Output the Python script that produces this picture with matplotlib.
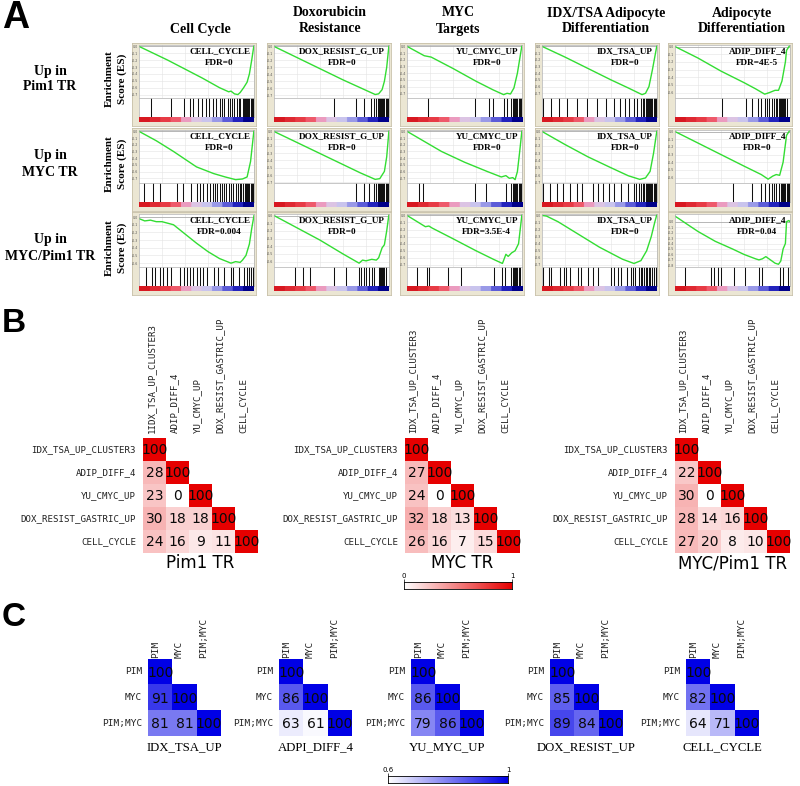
import numpy as np
import matplotlib
matplotlib.use("Agg")
import matplotlib.pyplot as plt
from matplotlib.colors import LinearSegmentedColormap

# ======================= DATA : panel A (GSEA) =======================
GENE_SETS = ["CELL_CYCLE", "DOX_RESIST_G_UP", "YU_CMYC_UP", "IDX_TSA_UP", "ADIP_DIFF_4"]
COL_TITLES = ["Cell Cycle", "Doxorubicin\nResistance", "MYC\nTargets",
              "IDX/TSA Adipocyte\nDifferentiation", "Adipocyte\nDifferentiation"]
ROW_TITLES = ["Up in\nPim1 TR", "Up in\nMYC TR", "Up in\nMYC/Pim1 TR"]
FDR_PIM = ["FDR=0", "FDR=0", "FDR=0", "FDR=0", "FDR=4E-5"]
FDR_MYC = ["FDR=0", "FDR=0", "FDR=0", "FDR=0", "FDR=0"]
FDR_MP = ["FDR=0.004", "FDR=0", "FDR=3.5E-4", "FDR=0", "FDR=0.04"]

# --- Up in Pim1 TR ---
PIM_CC_X = [0, .1, .25, .4, .55, .7, .78, .8, .83, .86, .88, .91, .94, .96, .98, 1.0]
PIM_CC_ES = [0, -.08, -.2, -.33, -.46, -.6, -.66, -.65, -.69, -.7, -.67, -.6, -.52, -.4, -.2, .02]
PIM_CC_HITS = [.10, .28, .39, .44, .47, .51, .55, .58, .61, .64, .67, .70, .72, .74, .77, .79, .81,
               .83, .85, .87, .88, .90, .91, .92, .93, .94, .95, .96, .97, .98, .99]
PIM_DOX_X = [0, .2, .4, .6, .8, .88, .91, .94, .96, .98, 1.0]
PIM_DOX_ES = [0, -.16, -.32, -.48, -.63, -.69, -.68, -.62, -.5, -.3, .02]
PIM_DOX_HITS = [.52, .71, .78, .84, .87, .89, .90, .91, .92, .93, .94, .95, .96, .97, .98, .99]
PIM_MYC_X = [0, .15, .18, .21, .4, .6, .75, .84, .87, .9, .93, .96, 1.0]
PIM_MYC_ES = [0, -.14, -.15, -.16, -.33, -.52, -.65, -.72, -.7, -.71, -.62, -.4, .02]
PIM_MYC_HITS = [.18, .59, .71, .75, .84, .87, .90, .92, .93, .94, .95, .96, .97, .98, .99]
PIM_IDX_X = [0, .2, .4, .6, .75, .87, .9, .93, .96, 1.0]
PIM_IDX_ES = [0, -.16, -.33, -.5, -.62, -.72, -.7, -.6, -.35, .02]
PIM_IDX_HITS = [.01, .08, .15, .22, .30, .39, .48, .56, .63, .68, .72, .76, .80, .83, .86, .88, .89,
                .90, .91, .92, .93, .94, .95, .96, .97, .98, .99]
PIM_ADIP_X = [0, .2, .4, .6, .7, .78, .82, .87, .9, .93, .96, .97, 1.0]
PIM_ADIP_ES = [0, -.15, -.32, -.47, -.55, -.62, -.6, -.57, -.57, -.45, -.2, -.05, .02]
PIM_ADIP_HITS = [.41, .62, .67, .72, .75, .78, .80, .82, .84, .86, .88, .89, .90, .91, .92, .93,
                 .94, .95, .96, .97]

# --- Up in MYC TR ---
MYC_CC_X = [0, .15, .3, .5, .65, .75, .84, .9, .94, .97, 1.0]
MYC_CC_ES = [0, -.14, -.3, -.53, -.63, -.68, -.72, -.71, -.68, -.45, .02]
MYC_CC_HITS = [.04, .12, .18, .33, .38, .45, .50, .53, .56, .59, .62, .64, .66, .68, .70, .72, .74,
               .76, .78, .80, .82, .84, .86, .88, .89, .90, .92, .93, .94, .95, .96, .97, .98, .99]
MYC_DOX_X = [0, .25, .5, .75, .88, .92, .96, .98, 1.0]
MYC_DOX_ES = [0, -.19, -.38, -.57, -.66, -.65, -.55, -.35, .02]
MYC_DOX_HITS = [.71, .78, .83, .87, .89, .90, .91, .92, .93, .94, .95, .96, .97, .98, .99]
MYC_MYC_X = [0, .1, .3, .5, .7, .82, .86, .89, .92, .94, .96, .98, 1.0]
MYC_MYC_ES = [0, -.1, -.3, -.46, -.6, -.68, -.66, -.7, -.69, -.72, -.6, -.3, .02]
MYC_MYC_HITS = [.10, .14, .59, .69, .86, .90, .92, .93, .94, .95, .96, .97, .98, .99]
MYC_IDX_X = [0, .2, .4, .6, .75, .85, .9, .94, .97, 1.0]
MYC_IDX_ES = [0, -.18, -.35, -.5, -.61, -.66, -.64, -.55, -.3, .02]
MYC_IDX_HITS = [.01, .07, .13, .18, .24, .30, .35, .44, .49, .53, .58, .63, .69, .75, .80, .82, .84,
                .86, .88, .89, .90, .91, .92, .93, .94, .95, .96, .97, .98, .99]
MYC_ADIP_X = [0, .2, .4, .6, .75, .81, .85, .88, .91, .94, .97, 1.0]
MYC_ADIP_ES = [0, -.15, -.3, -.45, -.56, -.62, -.58, -.56, -.57, -.4, -.05, .02]
MYC_ADIP_HITS = [.50, .67, .75, .78, .82, .84, .86, .88, .90, .92, .93, .94, .95, .96, .97, .98, .99]

# --- Up in MYC/Pim1 TR ---
MP_CC_X = [0, .05, .1, .15, .2, .25, .3, .4, .5, .6, .7, .8, .84, .88, .9, .93, .96, .98, 1.0]
MP_CC_ES = [-.02, -.05, -.04, -.06, -.06, -.08, -.1, -.22, -.34, -.45, -.54, -.6, -.58, -.59, -.56,
            -.5, -.35, -.15, .02]
MP_CC_HITS = [.06, .11, .14, .18, .21, .24, .28, .36, .39, .42, .44, .47, .50, .53, .56, .59, .65,
              .69, .74, .80, .82, .87, .91, .94, .96, .97, .99]
MP_DOX_X = [0, .2, .4, .6, .74, .77, .8, .85, .89, .91, .94, .96, .98, 1.0]
MP_DOX_ES = [0, -.16, -.32, -.5, -.62, -.58, -.59, -.57, -.58, -.55, -.42, -.38, -.2, .02]
MP_DOX_HITS = [.18, .25, .31, .52, .63, .74, .76, .78, .80, .83, .85, .87, .91, .92, .93, .94, .95,
               .96, .97]
MP_MYC_X = [0, .1, .16, .19, .22, .4, .6, .75, .83, .86, .88, .91, .94, .97, 1.0]
MP_MYC_ES = [0, -.1, -.16, -.15, -.18, -.33, -.5, -.62, -.68, -.55, -.58, -.53, -.5, -.4, .02]
MP_MYC_HITS = [.09, .17, .19, .36, .47, .76, .83, .85, .90, .92, .93, .94, .95, .96, .97, .98]
MP_IDX_X = [0, .04, .14, .3, .5, .7, .8, .86, .91, .95, .98, 1.0]
MP_IDX_ES = [0, -.01, -.09, -.25, -.45, -.62, -.68, -.64, -.5, -.3, -.1, .02]
MP_IDX_HITS = [.01, .06, .08, .16, .19, .21, .24, .31, .34, .40, .44, .49, .60, .63, .66, .69, .74,
               .77, .79, .81, .84, .86, .87, .89, .90, .91, .93, .94, .96, .97, .99]
MP_ADIP_X = [0, .03, .1, .2, .35, .5, .6, .7, .73, .76, .79, .83, .87, .9, .92, .94, .96, .97, .99, 1.0]
MP_ADIP_ES = [.1, .06, -.04, -.18, -.36, -.5, -.6, -.68, -.7, -.68, -.64, -.7, -.76, -.78, -.72,
              -.5, -.4, 0, .02, 0]
MP_ADIP_HITS = [.09, .31, .34, .37, .40, .51, .61, .73, .76, .91, .94, .98]

ES_TOP_PIM = [.02, .02, .02, .02, .02]
ES_TOP_MYC = [.02, .02, .02, .02, .02]
ES_TOP_MP = [.04, .02, .02, .02, .14]

# ======================= DATA : panel B =======================
B_SETS = ["IDX_TSA_UP_CLUSTER3", "ADIP_DIFF_4", "YU_CMYC_UP", "DOX_RESIST_GASTRIC_UP", "CELL_CYCLE"]
B_COLS_FIRST = ["1IDX_TSA_UP_CLUSTER3", "ADIP_DIFF_4", "YU_CMYC_UP", "DOX_RESIST_GASTRIC_UP", "CELL_CYCLE"]
B_TITLES = ["Pim1 TR", "MYC TR", "MYC/Pim1 TR"]
B_PIM = [[100], [28, 100], [23, 0, 100], [30, 18, 18, 100], [24, 16, 9, 11, 100]]
B_MYC = [[100], [27, 100], [24, 0, 100], [32, 18, 13, 100], [26, 16, 7, 15, 100]]
B_MP = [[100], [22, 100], [30, 0, 100], [28, 14, 16, 100], [27, 20, 8, 10, 100]]

# ======================= DATA : panel C =======================
C_LABELS = ["PIM", "MYC", "PIM;MYC"]
C_TITLES = ["IDX_TSA_UP", "ADPI_DIFF_4", "YU_MYC_UP", "DOX_RESIST_UP", "CELL_CYCLE"]
C_IDX = [[100], [91, 100], [81, 81, 100]]
C_ADIP = [[100], [86, 100], [63, 61, 100]]
C_MYC = [[100], [86, 100], [79, 86, 100]]
C_DOX = [[100], [85, 100], [89, 84, 100]]
C_CC = [[100], [82, 100], [64, 71, 100]]

# ======================= FIGURE =======================
W, H = 800, 786
fig = plt.figure(figsize=(8, 7.86), dpi=100)
fig.patch.set_facecolor("white")

SERIF = ["Liberation Serif", "DejaVu Serif"]
SANS = ["Liberation Sans", "DejaVu Sans"]
MONO = ["DejaVu Sans Mono"]


def px_axes(x, y, w, h):
    return fig.add_axes([x / W, 1 - (y + h) / H, w / W, h / H])


def ftext(x, y, s, **kw):
    return fig.text(x / W, 1 - y / H, s, **kw)


# panel letters
ftext(16, 18, "A", fontsize=27, fontweight="bold", family=SANS, ha="center", va="center")
ftext(14, 323, "B", fontsize=24, fontweight="bold", family=SANS, ha="center", va="center")
ftext(14, 617, "C", fontsize=24, fontweight="bold", family=SANS, ha="center", va="center")

# ---------------- panel A ----------------
TAN = "#ebe6d3"
RANK_CMAP = LinearSegmentedColormap.from_list(
    "rank", [(0, "#d81820"), (0.28, "#ee4a55"), (0.37, "#f08fb5"), (0.5, "#dcc4e4"),
             (0.63, "#c4c4f0"), (0.75, "#7c7ce2"), (0.88, "#2a2ac8"), (1.0, "#00008a")], N=11)

grid_data = [
    [(PIM_CC_X, PIM_CC_ES, PIM_CC_HITS), (PIM_DOX_X, PIM_DOX_ES, PIM_DOX_HITS),
     (PIM_MYC_X, PIM_MYC_ES, PIM_MYC_HITS), (PIM_IDX_X, PIM_IDX_ES, PIM_IDX_HITS),
     (PIM_ADIP_X, PIM_ADIP_ES, PIM_ADIP_HITS)],
    [(MYC_CC_X, MYC_CC_ES, MYC_CC_HITS), (MYC_DOX_X, MYC_DOX_ES, MYC_DOX_HITS),
     (MYC_MYC_X, MYC_MYC_ES, MYC_MYC_HITS), (MYC_IDX_X, MYC_IDX_ES, MYC_IDX_HITS),
     (MYC_ADIP_X, MYC_ADIP_ES, MYC_ADIP_HITS)],
    [(MP_CC_X, MP_CC_ES, MP_CC_HITS), (MP_DOX_X, MP_DOX_ES, MP_DOX_HITS),
     (MP_MYC_X, MP_MYC_ES, MP_MYC_HITS), (MP_IDX_X, MP_IDX_ES, MP_IDX_HITS),
     (MP_ADIP_X, MP_ADIP_ES, MP_ADIP_HITS)],
]
fdr_rows = [FDR_PIM, FDR_MYC, FDR_MP]
top_rows = [ES_TOP_PIM, ES_TOP_MYC, ES_TOP_MP]

COL_X = [132, 267, 400, 535, 668]
ROW_Y = [43, 128, 212]
PW, PH = 124, 83
TITLE_X = [200, 330, 458, 606, 742]

for c, title in enumerate(COL_TITLES):
    lines = title.split("\n")
    n = len(lines)
    for k, ln in enumerate(lines):
        ftext(TITLE_X[c], 29 - 16 * (n - 1 - k), ln, fontsize=10, fontweight="bold",
              family=SERIF, ha="center", va="center")

for r, rt in enumerate(ROW_TITLES):
    yc = ROW_Y[r] + 36
    l1, l2 = rt.split("\n")
    ftext(50, yc - 8, l1, fontsize=10, fontweight="bold", family=SERIF, ha="center", va="center")
    ftext(50, yc + 8, l2, fontsize=10, fontweight="bold", family=SERIF, ha="center", va="center")
    ftext(109, yc, "Enrichment", fontsize=8, fontweight="bold", family=SERIF,
          ha="center", va="center", rotation=90)
    ftext(122, yc, "Score (ES)", fontsize=8, fontweight="bold", family=SERIF,
          ha="center", va="center", rotation=90)

for r in range(3):
    for c in range(5):
        x0, y0 = COL_X[c], ROW_Y[r]
        xs, es, hits = grid_data[r][c]
        top = top_rows[r][c]
        # tan frame
        bg = px_axes(x0, y0, PW, PH)
        bg.set_facecolor(TAN)
        bg.set_xticks([]); bg.set_yticks([])
        for s in bg.spines.values():
            s.set_color("#c8c0a8"); s.set_linewidth(0.6)
        # ES curve
        ax = px_axes(x0 + 7, y0 + 2, PW - 9, 53)
        ax.set_facecolor("white")
        bottom = min(es) - 0.05
        ax.set_xlim(0, 1)
        ax.set_ylim(bottom, top)
        ax.axhline(0, color="#a0a0a0", lw=0.5)
        ax.plot(xs, es, color="#33dd33", lw=1.0)
        ticks = np.arange(0, bottom, -0.1)
        ax.set_yticks(ticks)
        ax.set_yticklabels([f"{t:.1f}" for t in ticks], fontsize=2.3, color="#555555")
        ax.set_xticks([0.2, 0.4, 0.6, 0.8])
        ax.tick_params(axis="both", length=0, pad=0.6, labelbottom=False)
        ax.grid(True, color="#e4e4e4", lw=0.4)
        for s in ax.spines.values():
            s.set_color("#b0b0b0"); s.set_linewidth(0.5)
        # hits
        hx = px_axes(x0 + 7, y0 + 55, PW - 9, 19)
        hx.set_facecolor("white")
        hx.vlines(hits, 0, 1, color="#111111", lw=0.75)
        hx.set_xlim(0, 1); hx.set_ylim(0, 1)
        hx.set_xticks([]); hx.set_yticks([])
        for s in hx.spines.values():
            s.set_color("#b0b0b0"); s.set_linewidth(0.5)
        # rank bar
        rb = px_axes(x0 + 7, y0 + 74, PW - 9, 5)
        rb.imshow(np.linspace(0, 1, 200)[None, :], aspect="auto", cmap=RANK_CMAP,
                  extent=[0, 1, 0, 1])
        rb.set_xticks([]); rb.set_yticks([])
        for s in rb.spines.values():
            s.set_visible(False)
        # labels: gene-set name right-aligned, FDR centred under it
        t = ftext(x0 + 118, y0 + 8, GENE_SETS[c], fontsize=6.6, fontweight="bold", family=SERIF,
                  ha="right", va="center")
        fig.canvas.draw() if (r == 0 and c == 0) else None
        bb = t.get_window_extent(renderer=fig.canvas.get_renderer())
        xc = (bb.x0 + bb.x1) / 2.0
        fig.text(xc / fig.bbox.width, 1 - (y0 + 20) / H, fdr_rows[r][c], fontsize=6.6,
                 fontweight="bold", family=SERIF, ha="center", va="center")

# ---------------- panel B ----------------
RED_CMAP = LinearSegmentedColormap.from_list("wr", ["#ffffff", "#e60000"])
BLUE_CMAP = LinearSegmentedColormap.from_list("wb", ["#ffffff", "#0000e6"])


def tri_matrix(rows):
    n = len(rows)
    m = np.full((n, n), np.nan)
    for i, row in enumerate(rows):
        for j, v in enumerate(row):
            m[i, j] = v
    return m


def heatmap(x0, y0, cw, ch, rows, row_labels, col_labels, cmap, vmin, vmax,
            lab_fs, num_fs, row_gap, col_gap, col_shift):
    n = len(rows)
    m = tri_matrix(rows)
    ax = px_axes(x0, y0, cw * n, ch * n)
    ax.imshow(m / 100.0, cmap=cmap, vmin=vmin, vmax=vmax, aspect="auto",
              extent=[-0.5, n - 0.5, n - 0.5, -0.5], interpolation="nearest")
    ax.set_xlim(-0.5, n - 0.5); ax.set_ylim(n - 0.5, -0.5)
    ax.axis("off")
    for i, row in enumerate(rows):
        for j, v in enumerate(row):
            ax.text(j, i + 0.04, f"{v}", ha="center", va="center", fontsize=num_fs,
                    color="#0a0a0a", family=["DejaVu Sans"])
    for i, lab in enumerate(row_labels):
        ax.text(-0.5 - row_gap / cw, i, lab, ha="right", va="center", fontsize=lab_fs,
                family=MONO, color="#222222")
    for j, lab in enumerate(col_labels):
        ax.text(j - col_shift, -0.5 - col_gap / ch, lab, ha="center", va="bottom",
                rotation=90, fontsize=lab_fs, family=MONO, color="#222222")
    return ax


B_X0 = [143, 405, 675]
B_Y0 = 438
BC = 23
for k, (rows, title) in enumerate(zip([B_PIM, B_MYC, B_MP], B_TITLES)):
    cols = B_COLS_FIRST if k == 0 else B_SETS
    heatmap(B_X0[k], B_Y0, BC, BC, rows, B_SETS, cols, RED_CMAP, 0, 1,
            6.6, 10, 7, 5, 0.15)
    ftext(B_X0[k] + 2.5 * BC, 563, title, fontsize=12, family=["DejaVu Sans"],
          ha="center", va="center")

# colorbar B
cb = px_axes(404, 582, 108, 7)
cb.imshow(np.linspace(0, 1, 256)[None, :], aspect="auto", cmap=RED_CMAP, extent=[0, 1, 0, 1])
cb.set_yticks([])
cb.set_xticks([0, 1])
cb.xaxis.set_ticks_position("top")
cb.set_xticklabels(["0", "1"], fontsize=5)
cb.tick_params(axis="x", length=2, width=0.5, pad=0.5)
for s in cb.spines.values():
    s.set_color("black"); s.set_linewidth(0.6)

# ---------------- panel C ----------------
C_X0 = [148, 279, 411, 550, 686]
C_Y0 = 659
for k, (rows, title) in enumerate(zip([C_IDX, C_ADIP, C_MYC, C_DOX, C_CC], C_TITLES)):
    heatmap(C_X0[k], C_Y0, 24.3, 25.7, rows, C_LABELS, C_LABELS, BLUE_CMAP, 0.6, 1.0,
            6.8, 10, 6, 1, 0.2)
    ftext(C_X0[k] + 36.5, 747, title, fontsize=9.2, family=SERIF, ha="center", va="center")

cc = px_axes(388, 776, 120, 7)
cc.imshow(np.linspace(0, 1, 256)[None, :], aspect="auto", cmap=BLUE_CMAP, extent=[0.6, 1, 0, 1])
cc.set_xlim(0.6, 1)
cc.set_yticks([])
cc.set_xticks([0.6, 1.0])
cc.xaxis.set_ticks_position("top")
cc.set_xticklabels(["0.6", "1"], fontsize=5)
cc.tick_params(axis="x", length=2, width=0.5, pad=0.5)
for s in cc.spines.values():
    s.set_color("black"); s.set_linewidth(0.6)

fig.savefig("out.png", dpi=100, facecolor="white")
